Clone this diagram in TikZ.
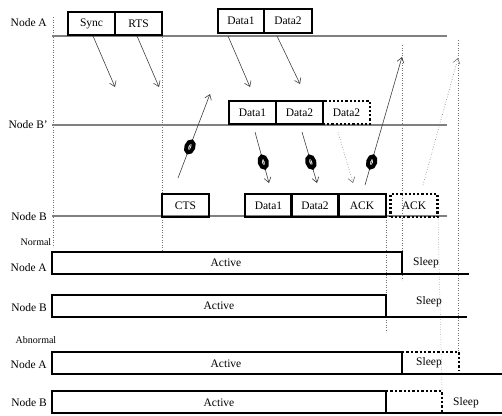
\documentclass[tikz,border=0pt]{standalone}
\usepackage{fontspec}
\setmainfont{Liberation Serif}
\usetikzlibrary{arrows.meta,shapes.geometric}
\tikzset{
  axisline/.style={draw=black!50, line width=1.3pt},
  vdot/.style={draw=black!55, dotted, line width=0.5pt},
  msgbox/.style={draw, line width=2.2pt, minimum width=47pt, minimum height=23pt, inner sep=0pt, outer sep=0pt, font=\fontsize{11.5}{13}\selectfont},
  dmsgbox/.style={msgbox, dotted, line width=2.4pt},
  arr/.style={draw=black!75, line width=0.6pt, -{Straight Barb[length=5pt,width=7pt]}},
  garr/.style={draw=black!55, dotted, line width=0.6pt, -{Straight Barb[length=5pt,width=7pt]}},
  ring/.style={ellipse, draw=black, solid, line width=4pt, minimum width=11.5pt, minimum height=7pt, inner sep=0pt, sloped},
  lbl/.style={font=\fontsize{11.5}{13}\selectfont, inner sep=0pt},
  slbl/.style={font=\fontsize{10}{12}\selectfont, inner sep=0pt},
  actbar/.style={line width=2.4pt, line cap=rect},
  dbar/.style={line width=2.4pt, dotted},
}
\begin{document}
\begin{tikzpicture}[x=1pt,y=-1pt]
\useasboundingbox (0,0) rectangle (502,415);

% vertical dotted guides
\draw[vdot] (53,17) -- (53,247);
\draw[vdot] (162,12) -- (162,250);
\draw[vdot] (386,217) -- (386,332);
\draw[vdot] (402,45) -- (402,280);
\draw[vdot] (438,217) -- (442,391);
\draw[vdot] (458,40) -- (458,352);

% axes
\draw[axisline] (52,36) -- (447,36);
\draw[axisline] (52,125) -- (447,125);
\draw[axisline] (52,216) -- (447,216);

% labels
\node[lbl, anchor=east] (lA) at (47,23) {Node A};
\node[lbl, anchor=east] (lBp) at (48,125) {Node B'};
\node[lbl, anchor=east] (lB) at (47,217) {Node B};

% Node A boxes
\node[msgbox] (sync) at (91.5,23.5) {Sync};
\node[msgbox] (rts) at (138.5,23.5) {RTS};
\node[msgbox, minimum width=46pt, minimum height=24pt] (ad1) at (241,21) {Data1};
\node[msgbox, minimum width=48pt, minimum height=24pt] (ad2) at (288,21) {Data2};

% Node B' boxes
\node[msgbox] (bpd1) at (252.5,112.5) {Data1};
\node[msgbox] (bpd2) at (299.5,112.5) {Data2};
\node[dmsgbox] (bpd3) at (346.5,112.5) {Data2};

% Node B boxes
\node[msgbox] (cts) at (185.5,205.5) {CTS};
\node[msgbox] (bd1) at (268.5,205.5) {Data1};
\node[msgbox] (bd2) at (315,205.5) {Data2};
\node[msgbox, minimum width=48pt] (ack) at (362,205.5) {ACK};
\node[dmsgbox] (ack2) at (414,205.5) {ACK};

% arrow end points
\coordinate (s1) at (93,36);   \coordinate (e1) at (115,87);
\coordinate (s2) at (137,36);  \coordinate (e2) at (159,87);
\coordinate (s3) at (228,36);  \coordinate (e3) at (250,87);
\coordinate (s4) at (277,36);  \coordinate (e4) at (300,84);
\coordinate (s5) at (178,178); \coordinate (e5) at (210,94);
\coordinate (s6) at (255,132); \coordinate (e6) at (269,183);
\coordinate (s7) at (302,132); \coordinate (e7) at (317,183);
\coordinate (s8) at (338,132); \coordinate (e8) at (353,183);
\coordinate (s9) at (365,185); \coordinate (e9) at (402,57);
\coordinate (s10) at (423,185); \coordinate (e10) at (458,58);

\draw[arr] (s1) -- (e1);
\draw[arr] (s2) -- (e2);
\draw[arr] (s3) -- (e3);
\draw[arr] (s4) -- (e4);
\draw[arr] (s5) -- node[ring, pos=0.37] (r1) {} (e5);
\draw[arr] (s6) -- node[ring, pos=0.59] (r2) {} (e6);
\draw[arr] (s7) -- node[ring, pos=0.59] (r3) {} (e7);
\draw[garr] (s8) -- (e8);
\draw[arr] (s9) -- node[ring, pos=0.18] (r4) {} (e9);
\draw[garr] (s10) -- (e10);

% lower part
\node[slbl] (normal) at (36,242) {Normal};
\node[slbl] (abnormal) at (36,340) {Abnormal};

% Normal Node A
\node[lbl, anchor=east] (nA) at (47,268) {Node A};
\draw[actbar] (402,274) -- (52,274) -- (52,252) -- (402,252) -- (402,274) -- (468,274);
\node[lbl] (nAact) at (226,263) {Active};
\node[lbl] (nAsl) at (426,263) {Sleep};

% Normal Node B
\node[lbl, anchor=east] (nB) at (47,308) {Node B};
\draw[actbar] (386,317) -- (52,317) -- (52,295) -- (386,295) -- (386,317) -- (466,317);
\node[lbl] (nBact) at (219,306) {Active};
\node[lbl] (nBsl) at (429,302) {Sleep};

% Abnormal Node A
\node[lbl, anchor=east] (aA) at (47,365) {Node A};
\draw[actbar] (402,374) -- (52,374) -- (52,352) -- (402,352) -- (402,374) -- (502,374);
\draw[dbar] (402,352) -- (459,352) -- (459,371);
\node[lbl] (aAact) at (226,364) {Active};
\node[lbl] (aAsl) at (429,363) {Sleep};

% Abnormal Node B
\node[lbl, anchor=east] (aB) at (47,403) {Node B};
\draw[actbar] (386,413) -- (52,413) -- (52,391) -- (386,391) -- (386,413) -- (502,413);
\draw[dbar] (386,391) -- (442,391) -- (442,413);
\node[lbl] (aBact) at (219,403) {Active};
\node[lbl] (aBsl) at (466,403) {Sleep};
\end{tikzpicture}
\end{document}
